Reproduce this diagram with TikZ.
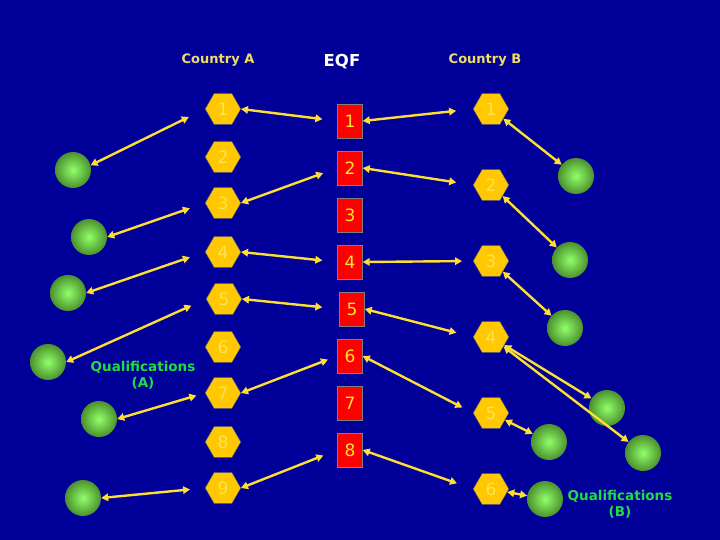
\documentclass[tikz,border=0pt]{standalone}
\usepackage{fontspec}
\setmainfont{DejaVu Sans}
\usepackage{xcolor}
\usepackage{tikz}
\usetikzlibrary{arrows.meta,positioning,shapes.geometric}

\definecolor{navy}{RGB}{0,0,153}
\definecolor{hexfill}{RGB}{255,200,0}
\definecolor{hextext}{RGB}{255,228,80}
\definecolor{boxtext}{RGB}{255,230,40}
\definecolor{linkyellow}{RGB}{255,222,50}
\definecolor{headyellow}{RGB}{240,222,100}
\definecolor{qualgreen}{RGB}{30,220,70}
\definecolor{balllight}{RGB}{145,255,105}
\definecolor{balldark}{RGB}{75,145,45}

\begin{document}
\begin{tikzpicture}[x=1pt, y=-1pt,
            hexa/.style={draw=black!60, fill=hexfill, regular polygon, regular polygon sides=6,
                 minimum size=35.5pt, inner sep=0pt, text=hextext, font=\fontsize{17}{17}\selectfont},
            eqfbox/.style={draw=black!50, fill=red, rectangle, minimum width=25pt, minimum height=34pt,
                 inner sep=0pt, text=boxtext, font=\fontsize{17}{17}\selectfont},
            ball/.style={circle, minimum size=36pt, inner sep=0pt, inner color=balllight,
                 outer color=balldark},
            head/.style={text=headyellow, font=\bfseries\fontsize{13}{15}\selectfont},
            qual/.style={text=qualgreen, align=center, font=\bfseries\fontsize{13.5}{16}\selectfont},
            link/.style={draw=linkyellow, line width=2.4pt,
                 {Triangle[length=7pt,width=7.5pt]}-{Triangle[length=7pt,width=7.5pt]}}
            ]
            \fill[navy] (0,0) rectangle (720,540);
            \useasboundingbox (0,0) rectangle (720,540);

            % Headings
            \node[head] (cta) at (218,60) {Country A};
            \node[text=white, font=\bfseries\fontsize{16.5}{18}\selectfont] (eqf) at (342,62) {EQF};
            \node[head] (ctb) at (485,60) {Country B};
            \node[qual] (quala) at (143,375) {Qualifications\\(A)};
            \node[qual] (qualb) at (620,504) {Qualifications\\(B)};

            % Country A levels
            \node[hexa] (a1) at (223,109) {1};
            \node[hexa] (a2) at (223,157) {2};
            \node[hexa] (a3) at (223,203) {3};
            \node[hexa] (a4) at (223,252) {4};
            \node[hexa] (a5) at (224,299) {5};
            \node[hexa] (a6) at (223,347) {6};
            \node[hexa] (a7) at (223,393) {7};
            \node[hexa] (a8) at (223,442) {8};
            \node[hexa] (a9) at (223,488) {9};

            % EQF levels
            \node[eqfbox] (e1) at (350,121) {1};
            \node[eqfbox] (e2) at (350,168) {2};
            \node[eqfbox] (e3) at (350,215) {3};
            \node[eqfbox] (e4) at (350,262) {4};
            \node[eqfbox] (e5) at (352,309) {5};
            \node[eqfbox] (e6) at (350,356) {6};
            \node[eqfbox] (e7) at (350,403) {7};
            \node[eqfbox] (e8) at (350,450) {8};

            % Country B levels
            \node[hexa] (b1) at (491,109) {1};
            \node[hexa] (b2) at (491,185) {2};
            \node[hexa] (b3) at (491,261) {3};
            \node[hexa] (b4) at (491,337) {4};
            \node[hexa] (b5) at (491,413) {5};
            \node[hexa] (b6) at (491,489) {6};

            % Qualifications (A)
            \node[ball] (qa1) at (73,170) {};
            \node[ball] (qa2) at (89,237) {};
            \node[ball] (qa3) at (68,293) {};
            \node[ball] (qa4) at (48,362) {};
            \node[ball] (qa5) at (99,419) {};
            \node[ball] (qa6) at (83,498) {};

            % Qualifications (B)
            \node[ball] (qb1) at (576,176) {};
            \node[ball] (qb2) at (570,260) {};
            \node[ball] (qb3) at (565,328) {};
            \node[ball] (qb4) at (607,408) {};
            \node[ball] (qb5) at (549,442) {};
            \node[ball] (qb6) at (643,453) {};
            \node[ball] (qb7) at (545,499) {};

            % Arrows
            \draw[link, shorten >=18pt] (qa1.15) -- (a1.west);
            \draw[link, shorten >=16pt] (qa2.east) -- (a3.west);
            \draw[link, shorten >=16pt] (qa3.east) -- (a4.west);
            \draw[link, shorten >=16pt] (qa4.east) -- (a5.west);
            \draw[link, shorten >=9pt] (qa5.east) -- (a7.west);
            \draw[link, shorten >=15pt] (qa6.east) -- (a9.west);

            \draw[link, shorten >=15pt] (a1.east) -- (e1.west);
            \draw[link, shorten >=15pt] (a3.east) -- (e2.west);
            \draw[link, shorten >=15pt] (a4.east) -- (e4.west);
            \draw[link, shorten >=17pt] (a5.east) -- (e5.west);
            \draw[link, shorten >=10pt] (a7.east) -- (e6.west);
            \draw[link, shorten >=15pt] (a9.east) -- (e8.west);

            \draw[link, shorten >=17pt] (e1.east) -- (b1.west);
            \draw[link, shorten >=17pt] (e2.east) -- (b2.west);
            \draw[link, shorten >=11pt] (e4.east) -- (b3.west);
            \draw[link, shorten >=17pt] (e5.east) -- (b4.west);
            \draw[link, shorten >=12pt] (e6.east) -- (b5.west);
            \draw[link, shorten >=17pt] (e8.east) -- (b6.west);

            \draw[link] (b1) -- (qb1);
            \draw[link] (b2) -- (qb2);
            \draw[link] (b3) -- (qb3);
            \draw[link] (b4) -- (qb4);
            \draw[link] (b4) -- (qb6);
            \draw[link] (b5) -- (qb5);
            \draw[link] (b6) -- (qb7);
        \end{tikzpicture}
\end{document}
